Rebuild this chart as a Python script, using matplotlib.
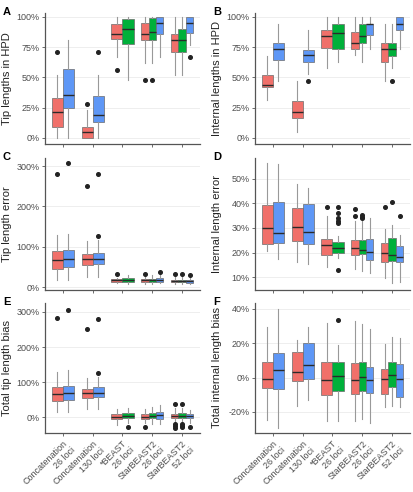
import matplotlib
matplotlib.use('Agg')
import matplotlib.pyplot as plt
from matplotlib.ticker import FuncFormatter

plt.rcParams['font.family'] = ['Liberation Sans', 'DejaVu Sans']

N = None

groups = ['Concatenation\n26 loci', 'Concatenation\n130 loci', '*BEAST\n26 loci',
          'StarBEAST2\n26 loci', 'StarBEAST2\n52 loci']
colors = ['#F0706A', '#00B03A', '#5E97F6']

# every stat list is [group][series], series = red, green, blue (None = not run)

# A - tip lengths in HPD (%)
a_med = [[21.3, N, 35.5], [4.7, N, 18.8], [86.1, 90.3, N], [86.1, 87.8, 95.3], [80.9, 80.9, 95.3]]
a_q1 = [[9.4, N, 24.7], [0, N, 13.6], [82, 77.3, N], [80.6, 80.6, 85.6], [71.2, 71.2, 87]]
a_q3 = [[33, N, 57], [9.1, N, 34.3], [93.9, 98.6, N], [95.3, 98.9, 100], [85.6, 90.3, 100]]
a_lo = [[0, N, 0], [0, N, 0], [66.8, 47.6, N], [62, 62, 66.8], [52.4, 52.4, 76.5]]
a_hi = [[51.8, N, 80.6], [23.3, N, 52], [100, 100, N], [100, 100, 100], [100, 100, 100]]
a_fl = [[[71.2], [], []], [[28.3], [], [71.2]], [[56.5], [], []], [[47.6], [47.6], []], [[], [], [66.8]]]

# B - internal lengths in HPD (%)
b_med = [[44, N, 73.7], [21.1, N, 68.4], [84.2, 87, N], [78.7, 84.5, 94.5], [73.7, 73.7, 94.5]]
b_q1 = [[41.8, N, 64.3], [16.9, N, 62.9], [74.5, 73.7, N], [73.7, 78.7, 85], [62.9, 68.1, 89.2]]
b_q3 = [[52.4, N, 78.7], [30.2, N, 73.1], [89.2, 94.5, N], [87.8, 94.5, 94.5], [78.7, 78.7, 100]]
b_lo = [[31.6, N, 47.4], [5.3, N, 52.9], [57.9, 62.9, N], [68.4, 62.9, 73.7], [47.4, 57.9, 73.7]]
b_hi = [[68.1, N, 94.5], [47.4, N, 89.2], [100, 100, N], [100, 100, 100], [94.5, 94.5, 100]]
b_fl = [[[], [], []], [[], [], [47.4]], [[], [], []], [[], [], []], [[], [47.4], []]]

# C - tip length error (%)
c_med = [[66.3, N, 70.4], [70.4, N, 69.6], [16.6, 17.4, N], [16.6, 17, 17.4], [15, 15, 14]]
c_q1 = [[45.6, N, 49.7], [55.5, N, 58], [13.3, 12.4, N], [12.4, 12.4, 13.3], [11.6, 11.6, 10]]
c_q3 = [[88.6, N, 91], [81.2, N, 85.3], [19.9, 23, N], [20.7, 20.7, 22.4], [18.2, 18.2, 18]]
c_lo = [[18.2, N, 18.2], [24.9, N, 24.9], [10, 8.3, N], [8, 8, 9], [8, 8, 8]]
c_hi = [[128.4, N, 132.6], [113.5, N, 116], [22.4, 29, N], [25, 29, 29], [25, 25, 24]]
c_fl = [[[280], [], [306.5]], [[251], [], [280, 126.8]], [[31.5], [], []],
        [[31.5], [], [36.5]], [[31.5], [31.5], [30.7]]]

# D - internal length error (%)
d_med = [[30, N, 28], [30.5, N, 28.4], [23.1, 22, N], [21.9, 21.2, 20.4], [19.7, 19.2, 18.2]]
d_q1 = [[23.5, N, 23.9], [24.6, N, 23.5], [18.8, 19.9, N], [18.9, 19.5, 16.9], [16.2, 16.5, 16.2]]
d_q3 = [[39.2, N, 40.5], [38.1, N, 39.9], [25.5, 24.2, N], [25, 25, 25.5], [23.9, 25.9, 22.8]]
d_lo = [[20.5, N, 17.2], [16.2, N, 15.5], [14.1, 17.6, N], [13.1, 12.4, 11.8], [9.7, 7.7, 8]]
d_hi = [[56.4, N, 56.1], [47.8, N, 46.2], [34.7, 26.9, N], [32.7, 32.7, 34.1], [29.7, 31.4, 27.3]]
d_fl = [[[], [], []], [[], [], []], [[38.5], [38.5, 36.1, 34.1, 33, 32, 12.8], []],
        [[37.7, 34.7], [35.1, 34.5, 34.1], []], [[38.5], [40.5], [35]]]

# E - total tip length bias (%)
e_med = [[67, N, 70], [70, N, 70], [1.7, 4.5, N], [1.7, 4.5, 5.7], [4, 4.5, 4]]
e_q1 = [[46.4, N, 50], [55, N, 58], [-5.7, -2.8, N], [-5.7, -2.7, -5.7], [-2.7, -2.8, -2.7]]
e_q3 = [[87, N, 90], [81, N, 85], [8.5, 11, N], [8.5, 12.5, 15], [9.5, 11, 9.5]]
e_lo = [[14, N, 14], [24, N, 24], [-22, -15, N], [-17, -20, -19], [-13.3, -15, -15]]
e_hi = [[130, N, 134], [113, N, 116], [23.6, 25.6, N], [23.6, 30, 34.8], [25.6, 25.6, 22]]
e_fl = [[[282], [], [306]], [[251], [], [280, 127]], [[], [-28.5], []],
        [[-28.5], [], []], [[36.7, -20, -25, -30], [36.7, -19, -24, -28.5], [-28.5]]]

# F - total internal length bias (%)
f_med = [[-1, N, 4.3], [3.1, N, 7.4], [-1.4, 0.6, N], [-1.6, 0.2, -1.4], [-0.6, 1.4, -1]]
f_q1 = [[-6.2, N, -6.6], [-1.8, N, -1], [-10.1, -7.6, N], [-9.8, -7.6, -9.2], [-9.4, -5.3, -11.1]]
f_q3 = [[9, N, 14.2], [14.6, N, 20.1], [8.8, 8.8, N], [8.4, 9.2, 6], [4.9, 9.2, 8]]
f_lo = [[-24.8, N, -29.3], [-16.4, N, -13.1], [-25.4, -25.2, N], [-25.2, -24.4, -26.3], [-17, -16.6, -17]]
f_hi = [[29.5, N, 40], [22, N, 29.5], [31.8, 19.1, N], [33.2, 31.2, 28.3], [19.7, 23.6, 22.8]]
f_fl = [[[], [], []], [[], [], []], [[], [33.8], []], [[], [], []], [[], [], []]]


def draw_panel(ax, med, q1, q3, lo, hi, fl, ylim, yticks, ylabel, letter, xlabels):
    for g in range(len(groups)):
        present = [s for s in range(3) if med[g][s] is not None]
        w = 0.75 / len(present)
        for k, s in enumerate(present):
            pos = g + 1 - 0.375 + w * (k + 0.5)
            st = dict(med=med[g][s], q1=q1[g][s], q3=q3[g][s],
                      whislo=lo[g][s], whishi=hi[g][s], fliers=fl[g][s])
            ax.bxp([st], positions=[pos], widths=w, patch_artist=True,
                   showcaps=False, manage_ticks=False,
                   boxprops=dict(facecolor=colors[s], edgecolor='#6b6b6b', linewidth=0.5),
                   whiskerprops=dict(color='#999999', linewidth=0.8),
                   medianprops=dict(color='#2a2a2a', linewidth=1.0),
                   flierprops=dict(marker='o', markersize=2.6, markerfacecolor='#222222',
                                   markeredgecolor='#222222'))
    ax.set_xlim(0.4, 5.6)
    ax.set_ylim(*ylim)
    ax.set_yticks(yticks)
    ax.yaxis.set_major_formatter(FuncFormatter(lambda v, p: f'{v:.0f}%'))
    ax.set_xticks(range(1, 6))
    if xlabels:
        ax.set_xticklabels(groups, rotation=45, ha='right', va='top',
                           rotation_mode='anchor', multialignment='right')
    else:
        ax.set_xticklabels([])
    ax.grid(axis='y', color='#ebebeb', linewidth=0.6)
    ax.set_axisbelow(True)
    for side in ['top', 'right']:
        ax.spines[side].set_visible(False)
    for side in ['left', 'bottom']:
        ax.spines[side].set_color('#555555')
        ax.spines[side].set_linewidth(0.9)
    ax.tick_params(length=2.5, width=0.6, color='#555555', pad=1.5,
                   labelsize=6.5, labelcolor='#4d4d4d')
    ax.set_ylabel(ylabel, fontsize=8, color='#222222')
    ax.yaxis.set_label_coords(-0.215, 0.5)
    bb = ax.get_position()
    ax.figure.text(bb.x0 - 42 / 414, bb.y1 + 1 / 492, letter, fontsize=8,
                   fontweight='bold', ha='left', va='center')


W, H = 414, 492
fig = plt.figure(figsize=(W / 100, H / 100), dpi=100)


def make_axes(left, top, right, bottom):
    return fig.add_axes([left / W, 1 - bottom / H, (right - left) / W, (bottom - top) / H])


axA = make_axes(45, 13, 200, 144)
axB = make_axes(255, 13, 410, 144)
axC = make_axes(45, 158, 200, 290)
axD = make_axes(255, 158, 410, 290)
axE = make_axes(45, 303, 200, 433)
axF = make_axes(255, 303, 410, 433)

draw_panel(axA, a_med, a_q1, a_q3, a_lo, a_hi, a_fl, (-5, 103.3), [0, 25, 50, 75, 100],
           'Tip lengths in HPD', 'A', False)
draw_panel(axB, b_med, b_q1, b_q3, b_lo, b_hi, b_fl, (-5, 103.3), [0, 25, 50, 75, 100],
           'Internal lengths in HPD', 'B', False)
draw_panel(axC, c_med, c_q1, c_q3, c_lo, c_hi, c_fl, (-7.4, 320), [0, 100, 200, 300],
           'Tip length error', 'C', False)
draw_panel(axD, d_med, d_q1, d_q3, d_lo, d_hi, d_fl, (4.75, 58.5), [10, 20, 30, 40, 50],
           'Internal length error', 'D', False)
draw_panel(axE, e_med, e_q1, e_q3, e_lo, e_hi, e_fl, (-44.7, 325.6), [0, 100, 200, 300],
           'Total tip length bias', 'E', True)
draw_panel(axF, f_med, f_q1, f_q3, f_lo, f_hi, f_fl, (-32.4, 43.5), [-20, 0, 20, 40],
           'Total internal length bias', 'F', True)

fig.savefig('out.png', dpi=100)
